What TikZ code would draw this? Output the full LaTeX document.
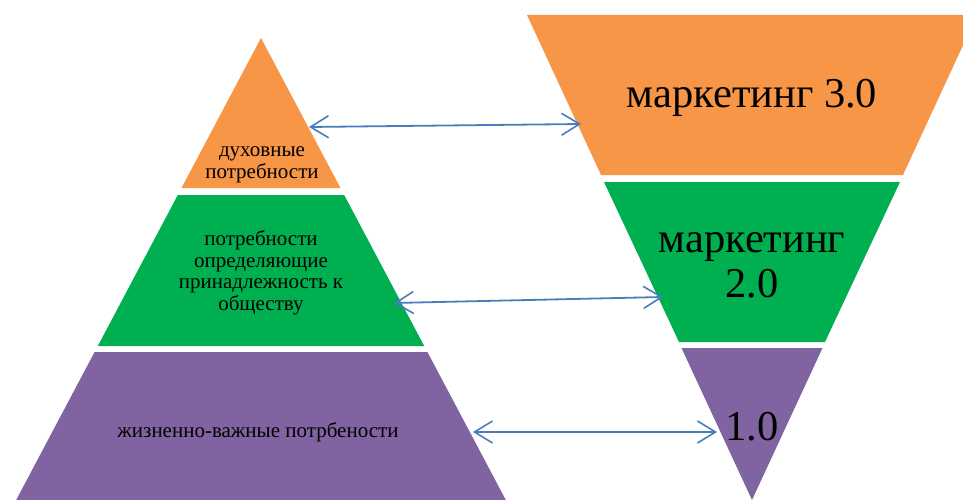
\documentclass[tikz,border=0pt]{standalone}
\usepackage{fontspec}
\setmainfont{Liberation Serif}
\usetikzlibrary{arrows.meta,calc}

\definecolor{segorange}{HTML}{F79646}
\definecolor{seggreen}{HTML}{00B050}
\definecolor{segpurple}{HTML}{8064A2}
\definecolor{linkblue}{HTML}{4A7EBB}

\tikzset{
  smalltext/.style={align=center, inner sep=0pt, anchor=base,
    font=\fontsize{21}{21.5}\selectfont},
  bigtext/.style={align=center, inner sep=0pt, anchor=base,
    font=\fontsize{42.5}{45}\selectfont},
  link/.style={draw=linkblue, line width=1.8pt,
    >={Straight Barb[length=18pt,width=22pt,line width=1.6pt]}, <->}
}

\begin{document}
\begin{tikzpicture}[x=1pt,y=-1pt]
  \clip (0,0) rectangle (963,500);
  \fill[white] (0,0) rectangle (963,500);

  % pyramid of needs
  \fill[segorange] (261,38) -- (340.5,188) -- (181.5,188) -- cycle;
  \fill[seggreen] (177.8,195) -- (344.2,195) -- (424.2,346) -- (97.8,346) -- cycle;
  \fill[segpurple] (94.6,352) -- (427.4,352) -- (509,506) -- (13,506) -- cycle;

  % inverted pyramid of marketing stages
  \fill[segorange] (527,15) -- (977,15) -- (903,175) -- (601,175) -- cycle;
  \fill[seggreen] (604,182) -- (900,182) -- (825,342) -- (679,342) -- cycle;
  \fill[segpurple] (681.5,348) -- (822.5,348) -- (752,500) -- cycle;

  % labels (base anchor sits on the last line)
  \node[smalltext] (spirit) at (262,178) {духовные\\потребности};
  \node[smalltext] (social) at (261,310) {потребности\\определяющие\\принадлежность к\\обществу};
  \node[smalltext] (vital) at (258,437) {жизненно-важные потрбености};

  \node[bigtext] (m3) at (752,108) {маркетинг 3.0};
  \node[bigtext] (m2) at (752,297) {маркетинг\\2.0};
  \node[bigtext] (m1) at (752,440) {1.0};

  % link end points on the slopes
  \coordinate (a1) at (309,127);
  \coordinate (b1) at (581,124);
  \coordinate (a2) at (394,303);
  \coordinate (b2) at (663,297);
  \coordinate (a3) at (473,432);
  \coordinate (b3) at (717,432);

  \draw[link] (a1) -- (b1);
  \draw[link] (a2) -- (b2);
  \draw[link] (a3) -- (b3);
\end{tikzpicture}
\end{document}
